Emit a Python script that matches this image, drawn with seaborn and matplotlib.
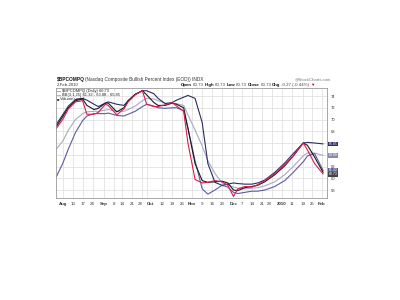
import matplotlib
matplotlib.use("Agg")
import matplotlib.pyplot as plt
import pandas as pd
import seaborn as sns

# ---------------- data ----------------
dates = ["2009-07-29", "2009-08-03", "2009-08-07", "2009-08-12", "2009-08-17", "2009-08-20",
         "2009-08-25", "2009-08-28", "2009-09-02", "2009-09-04", "2009-09-10", "2009-09-15",
         "2009-09-18", "2009-09-23", "2009-09-28", "2009-10-01", "2009-10-06", "2009-10-09",
         "2009-10-14", "2009-10-19", "2009-10-22", "2009-10-27", "2009-10-30", "2009-11-04",
         "2009-11-09", "2009-11-13", "2009-11-18", "2009-11-23", "2009-11-27", "2009-12-01",
         "2009-12-04", "2009-12-09", "2009-12-14", "2009-12-18", "2009-12-23", "2009-12-30",
         "2010-01-06", "2010-01-12", "2010-01-19", "2010-01-22", "2010-01-27", "2010-02-02"]

price = [68.3, 70.0, 71.8, 73.0, 73.2, 70.9, 70.9, 71.2, 72.6, 72.4, 70.8, 71.8,
         73.0, 74.2, 74.9, 72.6, 72.2, 72.2, 72.5, 72.9, 72.3, 71.4, 66.0, 59.8,
         59.2, 59.3, 59.6, 59.4, 58.8, 56.9, 58.2, 58.6, 58.5, 58.9, 59.6, 60.8,
         62.3, 63.8, 66.0, 64.8, 62.5, 60.73]

fast = [68.6, 70.5, 72.0, 73.2, 73.5, 72.4, 71.7, 71.9, 72.8, 72.8, 71.3, 72.0,
        73.2, 74.3, 74.9, 74.2, 72.9, 72.4, 72.4, 72.8, 72.6, 72.0, 68.5, 62.5,
        59.6, 59.3, 59.4, 59.5, 59.2, 58.0, 57.9, 58.4, 58.6, 58.8, 59.4, 60.6,
        62.1, 63.8, 66.0, 65.6, 63.6, 61.0]

upper = [69.0, 70.8, 72.3, 73.4, 73.6, 73.3, 72.6, 72.2, 72.8, 73.0, 72.6, 72.4,
         73.2, 74.3, 74.9, 74.9, 74.4, 73.6, 72.7, 72.9, 73.3, 73.8, 74.1, 73.6,
         69.5, 62.5, 59.3, 58.8, 59.0, 59.2, 59.1, 59.0, 59.0, 59.2, 59.7, 61.0,
         62.6, 64.2, 66.0, 66.1, 66.0, 65.85]

middle = [64.8, 66.3, 68.2, 70.0, 71.0, 71.3, 71.4, 71.4, 71.6, 71.7, 71.4, 71.4,
          71.7, 72.3, 73.2, 73.6, 73.5, 73.2, 72.8, 72.7, 72.7, 72.4, 70.8, 68.2,
          65.5, 63.0, 60.8, 59.2, 58.9, 58.5, 58.3, 58.2, 58.3, 58.4, 58.7, 59.4,
          60.6, 62.0, 63.8, 64.3, 64.3, 63.88]

lower = [60.0, 62.5, 65.0, 67.8, 69.8, 70.6, 71.0, 71.0, 71.0, 71.1, 70.7, 70.6,
         70.9, 71.4, 72.2, 72.6, 72.3, 72.0, 71.9, 72.0, 72.0, 71.5, 68.5, 63.0,
         58.2, 57.3, 58.0, 58.8, 58.5, 57.6, 57.4, 57.6, 57.8, 57.8, 58.0, 58.6,
         59.6, 61.0, 62.8, 63.8, 64.2, 61.32]

tick_dates = ["2009-08-03", "2009-08-10", "2009-08-17", "2009-08-24", "2009-09-01",
              "2009-09-08", "2009-09-14", "2009-09-21", "2009-09-28", "2009-10-01",
              "2009-10-12", "2009-10-19", "2009-10-26", "2009-11-02", "2009-11-09",
              "2009-11-16", "2009-11-23", "2009-12-01", "2009-12-07", "2009-12-14",
              "2009-12-21", "2009-12-28", "2010-01-04", "2010-01-11", "2010-01-19",
              "2010-01-25", "2010-02-01"]
tick_labels = ["Aug", "10", "17", "24", "Sep", "8", "14", "21", "28", "Oct", "12", "19",
               "26", "Nov", "9", "16", "23", "Dec", "7", "14", "21", "28", "2010", "11",
               "19", "25", "Feb"]
bold_labels = {"Aug", "Sep", "Oct", "Nov", "Dec", "2010", "Feb"}
y_ticks = [58, 60, 62, 64, 66, 68, 70, 72, 74]
y_tick_labels = ["58", "60", "62", "", "", "68", "70", "72", "74"]   # 64/66 hidden behind value boxes

end_values = [65.85, 63.88, 61.32, 60.73]

series_names = ["middle", "lower", "upper", "fast", "price"]
series_values = [middle, lower, upper, fast, price]
colors = {"middle": "#a9a9c6", "lower": "#5c5ca0", "upper": "#2c2c66",
          "fast": "#1a1a1a", "price": "#d81c50"}

# ---------------- build table ----------------
frames = []
for name, vals in zip(series_names, series_values):
    frames.append(pd.DataFrame({"date": pd.to_datetime(dates), "value": vals, "series": name}))
df = pd.concat(frames, ignore_index=True)

sns.set_style("white")
plt.rcParams["font.family"] = ["Liberation Sans", "DejaVu Sans"]

W, H = 400, 300
fig = plt.figure(figsize=(4, 3), dpi=100)
L, R, T, B = 56, 327, 88.5, 198
ax = fig.add_axes([L / W, 1 - B / H, (R - L) / W, (B - T) / H])

sns.lineplot(data=df, x="date", y="value", hue="series", hue_order=series_names,
             palette=colors, linewidth=0.8, legend=False, ax=ax, estimator=None)

ax.set_xlim(pd.Timestamp("2009-07-29 07:00"), pd.Timestamp("2010-02-04 17:00"))
ax.set_ylim(56.64, 75.28)
ax.set_xticks(pd.to_datetime(tick_dates))
ax.set_xticklabels(tick_labels)
ax.set_yticks(y_ticks)
ax.set_yticklabels(y_tick_labels)
ax.yaxis.tick_right()
ax.set_xlabel("")
ax.set_ylabel("")
ax.grid(True, color="#dcdcdc", linewidth=0.5)
ax.set_axisbelow(True)
ax.tick_params(axis="x", length=0, labelsize=3.2, colors="#333333", pad=3)
ax.tick_params(axis="y", length=0, labelsize=3.0, colors="#333333", pad=2.5)
for lbl in ax.get_xticklabels():
    if lbl.get_text() in bold_labels:
        lbl.set_fontweight("bold")
xl = ax.get_xticklabels()
xl[8].set_ha("right")    # "28" next to "Oct"
xl[9].set_ha("left")
xl[21].set_ha("right")   # "28" next to "2010"
for sp in ax.spines.values():
    sp.set_color("#9a9a9a")
    sp.set_linewidth(0.6)

# end-of-line value boxes (nudged so they sit between the tick labels)
box_cols = [colors["upper"], "#8a8aa8", colors["lower"], "#444444"]
box_shift = [0, 0, 0.2, -0.3]
for val, col, sh in zip(end_values, box_cols, box_shift):
    ax.annotate(f"{val:.2f}", xy=(1.0, val), xycoords=("axes fraction", "data"),
                xytext=(1.2, sh), textcoords="offset points", fontsize=2.5, color="white",
                va="center", ha="left", annotation_clip=False, zorder=5,
                bbox=dict(boxstyle="square,pad=0.1", fc=col, ec="none"))


def chain(x, y, parts, size):
    prev = None
    for txt, weight, col in parts:
        if prev is None:
            prev = fig.text(x / W, 1 - y / H, txt, fontsize=size, fontweight=weight,
                            color=col, ha="left", va="center", parse_math=False)
        else:
            prev = ax.annotate(txt, xy=(1, 0), xycoords=prev, xytext=(0.6, 0),
                               textcoords="offset points", fontsize=size, fontweight=weight,
                               color=col, ha="left", va="bottom", annotation_clip=False,
                               parse_math=False)
    return prev


chain(56.5, 79.5, [("$BPCOMPQ", "bold", "#111111"),
                   ("(Nasdaq Composite Bullish Percent Index (EOD)) INDX", "normal", "#333333")], 3.4)
fig.text(56.5 / W, 1 - 84.5 / H, "2-Feb-2010", fontsize=3.1, color="#333333",
         ha="left", va="center")
fig.text(331 / W, 1 - 79.5 / H, "@StockCharts.com", fontsize=3.1, color="#777777",
         ha="right", va="center")
chain(181, 85.3, [("Open", "bold", "#111111"), ("60.73", "normal", "#444444"),
                  ("High", "bold", "#111111"), ("60.73", "normal", "#444444"),
                  ("Low", "bold", "#111111"), ("60.73", "normal", "#444444"),
                  ("Close", "bold", "#111111"), ("60.73", "normal", "#444444"),
                  ("Chg", "bold", "#111111"), ("-0.27 (-0.44%)", "normal", "#444444"),
                  ("\u25bc", "normal", "#cc0000")], 3.2)

# legend lines inside the plot
chain(57, 91.0, [("\u2014", "bold", "#111111"), ("$BPCOMPQ (Daily) 60.73", "normal", "#222222")], 2.9)
chain(57, 95.0, [("\u2014", "bold", colors["upper"]),
                 ("BB(3,1,25) 61.32 - 63.88 - 65.85", "normal", "#222222")], 2.9)
chain(57, 99.0, [("\u25a0", "normal", "#333333"), ("Volume undef", "normal", "#222222")], 2.9)

fig.savefig("out.png", dpi=100)
